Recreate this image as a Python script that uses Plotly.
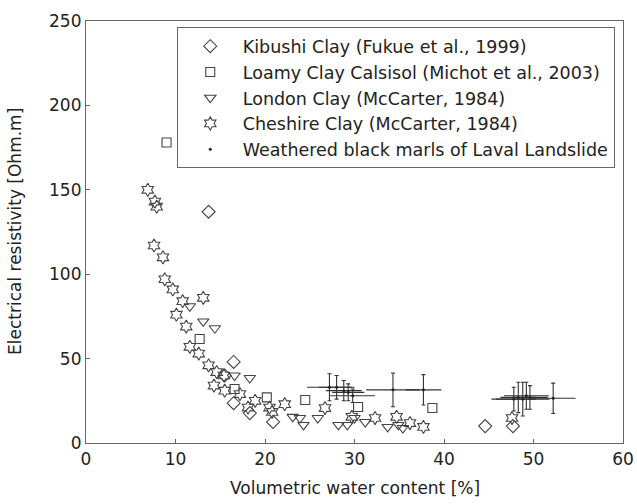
import plotly.graph_objects as go

# Kibushi Clay (Fukue et al., 1999) - diamonds
kib_x = [13.7, 16.5, 16.5, 18.3, 20.9, 15.5, 44.6, 47.7]
kib_y = [137, 48, 23.6, 17.7, 12.5, 40, 10, 10]

# Loamy Clay Calsisol (Michot et al., 2003) - squares
loam_x = [9.0, 12.7, 16.6, 20.2, 24.5, 30.4, 38.7]
loam_y = [178, 61.6, 32, 27, 25.5, 21.3, 20.7]

# London Clay (McCarter, 1984) - downward triangles
lon_x = [11.6, 13.1, 14.4, 16.6, 18.3, 23.1, 23.9, 24.3, 25.9, 28.2, 29.2, 30.0, 31.2, 33.7, 34.9, 35.4]
lon_y = [81, 72, 68, 40, 38.5, 15.5, 14.8, 10.7, 14.8, 10.7, 10.7, 14.8, 12.4, 9.5, 10.7, 8.9]

# Cheshire Clay (McCarter, 1984) - hexagrams
che_x = [6.9, 7.7, 7.9, 7.6, 8.6, 8.8, 9.7, 10.8, 10.1, 11.2, 11.6, 12.6, 13.1, 13.7, 14.6,
         15.4, 14.3, 15.5, 17.2, 18.9, 18.1, 20.5, 20.8, 22.2, 26.7, 29.7, 32.3, 34.7, 36.2,
         37.7, 47.6]
che_y = [150, 143, 140, 117, 110, 97, 91, 84, 76, 69, 57, 53, 86, 46, 42,
         40, 34, 31, 29, 25, 21, 21, 18.4, 23, 20.7, 15.5, 14.8, 15.5, 11.8,
         9.5, 14.8]

# Weathered black marls of Laval Landslide - dots with error bars
lav_x = [27.2, 28.0, 28.8, 29.3, 29.8, 34.3, 37.7, 47.8, 48.3, 48.8, 49.2, 49.6, 52.2]
lav_y = [33, 33, 31, 30, 28, 31.5, 31.5, 26, 27, 26, 28, 27, 26.5]
lav_ex = [2.5, 2.0, 2.0, 1.8, 2.5, 3.0, 2.0, 2.5, 2.0, 3.0, 2.5, 2.0, 2.5]
lav_ey = [8, 7, 6, 5, 4, 10, 9, 7, 9, 10, 8, 7, 9]

x_ticks = [0, 10, 20, 30, 40, 50, 60]
y_ticks = [0, 50, 100, 150, 200, 250]

FONT = "DejaVu Sans, Liberation Sans, Arial"
mcol = "#444444"
fig = go.Figure()


def add(name, xs, ys, sym, size):
    fig.add_trace(go.Scatter(
        x=xs, y=ys, mode="markers", name=name,
        marker=dict(symbol=sym, size=size, color=mcol,
                    line=dict(color=mcol, width=1.1)),
    ))


add("Kibushi Clay (Fukue et al., 1999)", kib_x, kib_y, "diamond-open", 10)
add("Loamy Clay Calsisol (Michot et al., 2003)", loam_x, loam_y, "square-open", 9)
add("London Clay (McCarter, 1984)", lon_x, lon_y, "triangle-down-open", 10)
add("Cheshire Clay (McCarter, 1984)", che_x, che_y, "hexagram-open", 10)
fig.add_trace(go.Scatter(
    x=lav_x, y=lav_y, mode="markers", name="Weathered black marls of Laval Landslide",
    marker=dict(symbol="circle", size=3, color="#222"),
    error_x=dict(type="data", array=lav_ex, color="#333", thickness=1.1, width=0),
    error_y=dict(type="data", array=lav_ey, color="#333", thickness=1.1, width=2),
))

axis_common = dict(
    showline=True, mirror=True, linecolor="#666", linewidth=1.2,
    ticks="inside", ticklen=4, tickcolor="#666",
    showgrid=False, zeroline=False, automargin=False,
    tickfont=dict(family=FONT, size=17, color="#222"),
)

fig.update_layout(
    width=637, height=504,
    margin=dict(l=86, r=14, t=21, b=61),
    paper_bgcolor="white", plot_bgcolor="white",
    font=dict(family=FONT, color="#222"),
    xaxis=dict(range=[0, 60], tickvals=x_ticks, **axis_common),
    yaxis=dict(range=[0, 250], tickvals=y_ticks, **axis_common),
    legend=dict(x=0.169, y=0.985, xanchor="left", yanchor="top",
                bordercolor="#666", borderwidth=1, bgcolor="white",
                font=dict(family=FONT, size=17.5, color="#222"), itemwidth=55,
                tracegroupgap=0),
    showlegend=True,
    annotations=[
        dict(text="Volumetric water content [%]", xref="paper", yref="paper",
             x=0.5, y=-0.1066, xanchor="center", yanchor="middle", showarrow=False,
             font=dict(family=FONT, size=17, color="#222")),
        dict(text="Electrical resistivity [Ohm.m]", xref="paper", yref="paper",
             x=-0.1322, y=0.5, xanchor="center", yanchor="middle", showarrow=False,
             textangle=-90, font=dict(family=FONT, size=17, color="#222")),
    ],
)

fig.write_html("out.html", config={"displayModeBar": False},
               post_script="document.body.style.margin='0';document.body.style.padding='0';")
